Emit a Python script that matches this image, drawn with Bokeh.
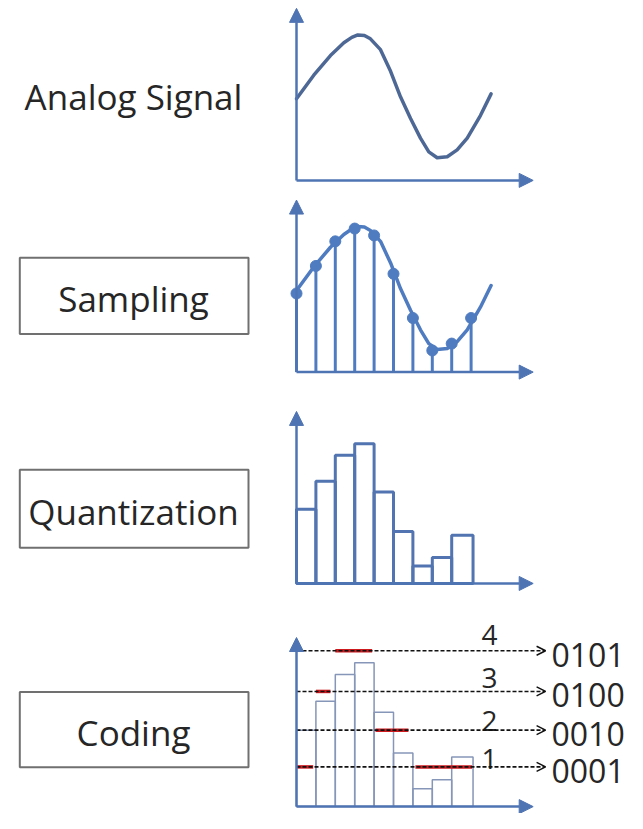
from bokeh.plotting import figure
from bokeh.models import Range1d, Arrow, NormalHead, OpenHead
from bokeh.core.properties import value
from bokeh.embed import file_html
from bokeh.resources import INLINE

# ---------------- data ----------------
stage_labels = ["Analog Signal", "Sampling", "Quantization", "Coding"]

# analog signal: time (in sample steps) and amplitude
curve_t = [0, 0.89, 1.75, 2.44, 2.85, 3.16, 3.5, 3.81, 4.33, 4.85, 5.36, 5.88, 6.39,
           6.82, 7.25, 7.77, 8.28, 8.80, 9.48, 10.03]
curve_v = [83, 107, 127, 140, 145.5, 148, 147.5, 144, 133, 111, 85, 63, 43,
           29, 23, 24, 31, 43, 66, 88]

# samples
sample_t = [0, 1, 2, 3, 4, 5, 6, 7, 8, 9]
sample_v = [80, 108, 133, 146, 139, 100, 55, 22, 29, 55]

# quantized bars
bar_left = [0, 1, 2, 3, 4, 5, 6, 7, 8]
bar_right = [1, 2, 3, 4, 5, 6, 7, 8, 9.1]
bar_v = [77, 106, 133, 145, 95, 54, 18, 27, 50]

# coding levels
level_ids = ["1", "2", "3", "4"]
level_v = [40, 77, 116, 157]
codes = ["0001", "0010", "0100", "0101"]

# red quantization marks: start/end time and level index
red_t0 = [0.0, 6.13, 4.07, 1.0, 2.0]
red_t1 = [0.86, 9.05, 5.77, 1.75, 3.9]
red_level = [0, 0, 1, 2, 3]

# ---------------- layout ----------------
X0, DX = 296, 19.4
base = [183, 378, 593, 820]
ytop = [175, 175, 175, 172]
vscale = [1.0, 1.0, 0.98, 1.01]
x_axis_end = 12.2
dash_end = 12.84
TEXT_SHIFT = 10
level_label_lift = [0, 1, 6, 8]

AXIS = "#4f74b3"
CURVE1 = "#4e6895"
BLUE2 = "#4f7cc0"
BAR3 = "#5274b0"
BAR4 = "#8696b8"
TXT = "#262626"
FONT = value("Open Sans")


def px(t):
    return X0 + DX * t


def py(k, v):
    return base[k] - vscale[k] * v


p = figure(width=627, height=813, output_backend="svg", toolbar_location=None,
           x_range=Range1d(0, 627), y_range=Range1d(827, 0),
           x_axis_type=None, y_axis_type=None, min_border=0)
p.grid.visible = False
p.outline_line_color = None
p.background_fill_color = "white"
p.border_fill_color = "white"

# ---------- left labels ----------
box_y = [(261.7, 339.3), (477.3, 556.7), (703.3, 780.0)]
p.quad(left=[19.3] * 3, right=[248] * 3,
       top=[b[0] for b in box_y], bottom=[b[1] for b in box_y],
       fill_color=None, line_color="#707070", line_width=2)
p.text(x=[133] * 4, y=[108 - TEXT_SHIFT, 313 - TEXT_SHIFT, 530 - TEXT_SHIFT, 755 - TEXT_SHIFT],
       text=stage_labels,
       text_font=FONT, text_font_size=value("35px"), text_color=TXT,
       text_align="center", text_baseline="alphabetic")

# ---------- panel 1: analog ----------
p.line([px(t) for t in curve_t], [py(0, v) for v in curve_v],
       line_color=CURVE1, line_width=3.5, line_join="round", line_cap="round")

# ---------- panel 2: sampling ----------
p.segment(x0=[px(t) for t in sample_t], y0=[base[1]] * len(sample_t),
          x1=[px(t) for t in sample_t], y1=[py(1, v) for v in sample_v],
          line_color=BLUE2, line_width=3)
p.line([px(t) for t in curve_t], [py(1, v) for v in curve_v],
       line_color=BLUE2, line_width=3.5, line_join="round", line_cap="round")
p.scatter([px(t) for t in sample_t], [py(1, v) for v in sample_v],
          size=11, fill_color=BLUE2, line_color=BLUE2)

# ---------- panel 3: quantization ----------
p.quad(left=[px(t) for t in bar_left], right=[px(t) for t in bar_right],
       top=[py(2, v) for v in bar_v], bottom=[base[2]] * len(bar_v),
       fill_color=None, line_color=BAR3, line_width=3)

# ---------- panel 4: coding ----------
p.quad(left=[px(t) for t in bar_left], right=[px(t) for t in bar_right],
       top=[py(3, v) for v in bar_v], bottom=[base[3]] * len(bar_v),
       fill_color=None, line_color=BAR4, line_width=1.5)
p.segment(x0=[px(t) for t in red_t0], x1=[px(t) for t in red_t1],
          y0=[py(3, level_v[i]) for i in red_level],
          y1=[py(3, level_v[i]) for i in red_level],
          line_color="#cc1a1f", line_width=3.5)
for i, lv in enumerate(level_v):
    yy = py(3, lv)
    p.add_layout(Arrow(end=OpenHead(size=9, line_width=1.5, line_color="#111111"),
                       x_start=px(0), y_start=yy, x_end=px(dash_end), y_end=yy,
                       line_color="#111111", line_width=1.6, line_dash="4 2"))
p.text(x=[489] * 4,
       y=[py(3, lv) - lift - TEXT_SHIFT * 0.8 for lv, lift in zip(level_v, level_label_lift)],
       text=level_ids,
       text_font=FONT, text_font_size=value("28px"), text_color=TXT,
       text_align="center", text_baseline="alphabetic")
p.text(x=[551] * 4, y=[py(3, lv) + 12 - TEXT_SHIFT * 0.8 for lv in level_v], text=codes,
       text_font=FONT, text_font_size=value("32px"), text_color=TXT,
       text_align="left", text_baseline="alphabetic")

# ---------- axes with arrowheads ----------
for k in range(4):
    p.add_layout(Arrow(end=NormalHead(size=14, fill_color=AXIS, line_color=AXIS),
                       x_start=X0, y_start=base[k], x_end=X0, y_end=base[k] - ytop[k],
                       line_color=AXIS, line_width=2.5))
    p.add_layout(Arrow(end=NormalHead(size=14, fill_color=AXIS, line_color=AXIS),
                       x_start=X0, y_start=base[k], x_end=px(x_axis_end), y_end=base[k],
                       line_color=AXIS, line_width=2.5))

open("out.html", "w").write(file_html(p, INLINE))
